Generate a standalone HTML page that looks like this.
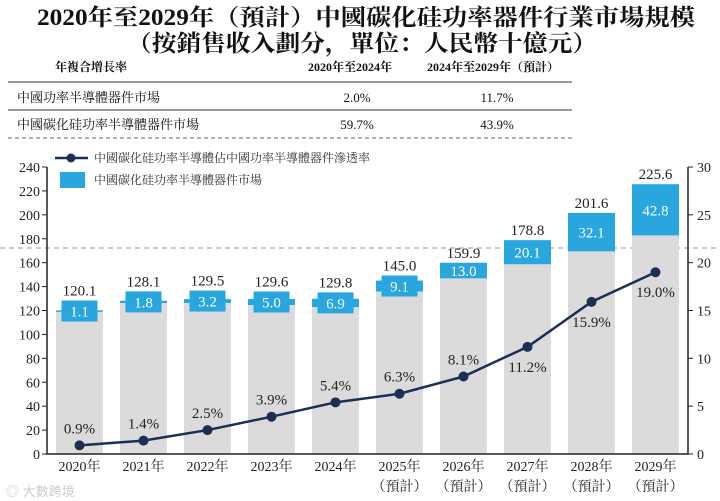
<!DOCTYPE html>
<html><head><meta charset="utf-8">
<style>
body{margin:0;background:#fff;width:720px;height:501px;overflow:hidden;}
svg{display:block;}
.serif{font-family:"Liberation Serif","Noto Serif CJK SC",serif;}
</style></head>
<body>
<svg id="chart" width="720" height="501" viewBox="0 0 720 501" xmlns="http://www.w3.org/2000/svg" class="serif">
<g font-weight="bold" fill="#111" text-anchor="middle" font-size="23">
<text x="366" y="25" textLength="658" lengthAdjust="spacingAndGlyphs">2020年至2029年（預計）中國碳化硅功率器件行業市場規模</text>
<text x="362" y="51" textLength="470" lengthAdjust="spacingAndGlyphs">（按銷售收入劃分，單位：人民幣十億元）</text>
</g>
<g fill="#111" font-size="12">
<text x="55" y="71" font-weight="bold">年複合增長率</text>
<text x="350" y="71" font-weight="bold" text-anchor="middle">2020年至2024年</text>
<text x="493" y="71" font-weight="bold" text-anchor="middle">2024年至2029年（預計）</text>
<line x1="8" y1="82" x2="572" y2="82" stroke="#333" stroke-width="1"/>
<text x="17" y="102" font-size="13">中國功率半導體器件市場</text>
<text x="357" y="102" text-anchor="middle" font-size="13">2.0%</text>
<text x="497" y="102" text-anchor="middle" font-size="13">11.7%</text>
<line x1="8" y1="110" x2="572" y2="110" stroke="#333" stroke-width="1"/>
<text x="17" y="129" font-size="13">中國碳化硅功率半導體器件市場</text>
<text x="357" y="129" text-anchor="middle" font-size="13">59.7%</text>
<text x="497" y="129" text-anchor="middle" font-size="13">43.9%</text>
<line x1="8" y1="138" x2="572" y2="138" stroke="#666" stroke-width="1" stroke-dasharray="4,3"/>
</g>
<line x1="0" y1="248" x2="720" y2="248" stroke="#999" stroke-width="1" stroke-dasharray="5,4"/>
<g id="plot"></g>
<g font-size="12" fill="#333">
<line x1="55" y1="158" x2="88" y2="158" stroke="#1b2f56" stroke-width="2.5"/>
<circle cx="71" cy="158" r="4.5" fill="#1b2f56"/>
<text x="94" y="162">中國碳化硅功率半導體佔中國功率半導體器件滲透率</text>
<rect x="60" y="172" width="25" height="16" fill="#29a6de"/>
<text x="94" y="184">中國碳化硅功率半導體器件市場</text>
</g>
<text x="6" y="496" font-size="13" fill="#ccc" font-family="Liberation Sans,Noto Sans CJK SC,sans-serif">◎ 大數跨境</text>
</svg>
<script>
const years=["2020年","2021年","2022年","2023年","2024年","2025年","2026年","2027年","2028年","2029年"];
const forecast=[false,false,false,false,false,true,true,true,true,true];
const totals=[120.1,128.1,129.5,129.6,129.8,145.0,159.9,178.8,201.6,225.6];
const sic=[1.1,1.8,3.2,5.0,6.9,9.1,13.0,20.1,32.1,42.8];
const rates=[0.9,1.4,2.5,3.9,5.4,6.3,8.1,11.2,15.9,19.0];
const leftTicks=[0,20,40,60,80,100,120,140,160,180,200,220,240];
const rightTicks=[0,5,10,15,20,25,30];

const NS="http://www.w3.org/2000/svg";
const g=document.getElementById('plot');
const x0=47,x1=688,yb=454,yt=167;
const yL=v=>yb-(v/240)*(yb-yt);
const yR=v=>yb-(v/30)*(yb-yt);
const xC=i=>79.5+64*i;
const bw=47;
function el(t,a,txt){const e=document.createElementNS(NS,t);for(const k in a)e.setAttribute(k,a[k]);if(txt!==undefined)e.textContent=txt;g.appendChild(e);return e;}

for(let i=0;i<years.length;i++){
  const cx=xC(i),top=yL(totals[i]),mid=yL(totals[i]-sic[i]);
  let r=el('rect',{x:cx-bw/2,y:top,width:bw,height:yb-top,fill:'#dcdbdb'});
  
  
  let s=el('rect',{x:cx-bw/2,y:top,width:bw,height:Math.max(mid-top,1.5),fill:'#29a6de'});
  
  
  const segH=mid-top;
  let lc=top+segH/2;
  const small=segH<12;
  if(small){
    let b=el('rect',{x:cx-18,y:lc-10.5,width:36,height:21,fill:'#29a6de'});
    
    
  }
  let t=el('text',{x:cx,y:lc+5.5,'text-anchor':'middle','font-size':15,fill:'#fff'},sic[i].toFixed(1));
  
  
  const boxTop=small?lc-10.5:top;
  let tt=el('text',{x:cx,y:boxTop-5,'text-anchor':'middle','font-size':15,fill:'#222'},totals[i].toFixed(1));
  
  
  let xl=el('text',{x:cx,y:471,'text-anchor':'middle','font-size':14,fill:'#222'},years[i]);
  
  
  if(forecast[i]){
    let fl=el('text',{x:cx,y:491,'text-anchor':'middle','font-size':14,fill:'#222'},'（預計）');
    
    
  }
}
let ax=el('path',{d:`M${x0},${yt}V${yb}H${x1}V${yt}`,fill:'none',stroke:'#222','stroke-width':1.5});


leftTicks.forEach(v=>{
  const y=yL(v);
  el('line',{x1:x0-5,y1:y,x2:x0,y2:y,stroke:'#222','stroke-width':1});
  let t=el('text',{x:40,y:y+5,'text-anchor':'end','font-size':14,fill:'#222'},v);
  
  
});
rightTicks.forEach(v=>{
  const y=yR(v);
  el('line',{x1:x1,y1:y,x2:x1+5,y2:y,stroke:'#222','stroke-width':1});
  let t=el('text',{x:697,y:y+5,'font-size':14,fill:'#222'},v);
  
  
});
let d=rates.map((v,i)=>(i?'L':'M')+xC(i)+','+yR(v)).join('');
let ln=el('path',{d:d,fill:'none',stroke:'#1b2f56','stroke-width':2.5});


rates.forEach((v,i)=>{
  let c=el('circle',{cx:xC(i),cy:yR(v),r:5,fill:'#1b2f56'});
  
  
  const below=i>=7;
  let t=el('text',{x:xC(i),y:yR(v)+(below?25:-12),'text-anchor':'middle','font-size':15,fill:'#222'},v.toFixed(1)+'%');
  
  
});
</script>
</body></html>
